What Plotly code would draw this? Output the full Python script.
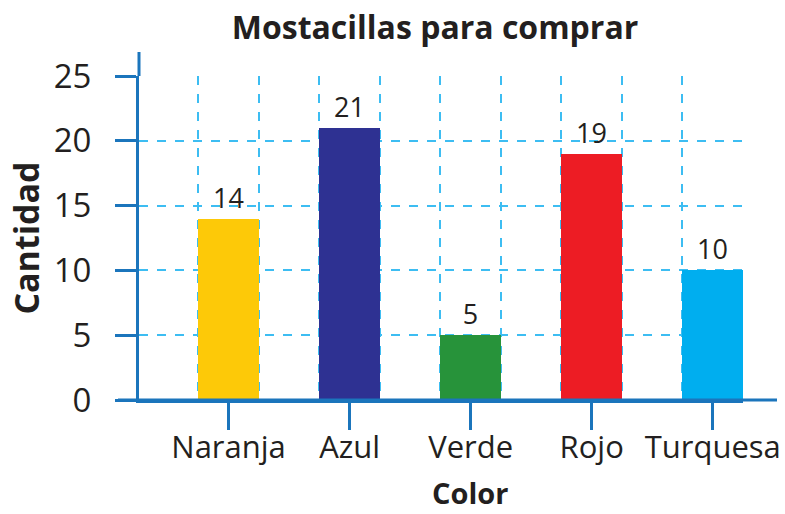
import plotly.graph_objects as go

categories = ["Naranja", "Azul", "Verde", "Rojo", "Turquesa"]
values = [14, 21, 5, 19, 10]
colors = ["#FDC908", "#2E3192", "#27933A", "#ED1C24", "#00AEEF"]
y_ticks = [0, 5, 10, 15, 20, 25]

AXIS = "#1B75BC"
GRID = "#3DBDF2"
TXT = "#231F20"
FONT = "Open Sans"
bar_w = 0.5

x_idx = list(range(len(categories)))
edges = sorted([i - bar_w / 2 for i in x_idx] + [i + bar_w / 2 for i in x_idx])

fig = go.Figure()
fig.add_trace(go.Bar(
    x=x_idx, y=values, width=bar_w,
    marker=dict(color=colors, line=dict(width=0)),
    text=[str(v) for v in values], textposition="outside",
    textfont=dict(family=FONT, size=27, color=TXT),
    cliponaxis=False,
))

W, H = 785, 514
L, R, T, B = 139, 42, 76, 114
pw, ph = W - L - R, H - T - B

fig.update_layout(
    width=W, height=H,
    margin=dict(l=L, r=R, t=T, b=B, autoexpand=False),
    paper_bgcolor="white", plot_bgcolor="white",
    showlegend=False,
    bargap=0,
    title=dict(text="<b>Mostacillas para comprar</b>", x=435 / W, xref="container",
               y=1 - 28 / H, yref="container", yanchor="middle", xanchor="center",
               automargin=False,
               font=dict(family=FONT, size=32, color=TXT)),
    xaxis=dict(
        range=[-0.74, 4.25], tickmode="array", tickvals=x_idx, ticktext=categories,
        showgrid=False, zeroline=False, automargin=False,
        ticklabeloverflow="allow", ticklabelstandoff=-9,
        showline=True, linecolor=AXIS, linewidth=3,
        ticks="outside", ticklen=27, tickwidth=3, tickcolor=AXIS,
        tickfont=dict(family=FONT, size=31, color=TXT),
        minor=dict(tickmode="array", tickvals=edges, showgrid=True, gridcolor=GRID,
                   gridwidth=1.5, griddash="dash", ticks=""),
    ),
    yaxis=dict(
        range=[0, 25], tickmode="array", tickvals=y_ticks,
        showgrid=True, gridcolor=GRID, gridwidth=1.5, griddash="dash",
        zeroline=False, automargin=False,
        ticklabeloverflow="allow",
        showline=True, linecolor=AXIS, linewidth=3,
        ticks="outside", ticklen=21, tickwidth=3, tickcolor=AXIS,
        tickfont=dict(family=FONT, size=33, color=TXT),
        ticklabelstandoff=17,
        title=dict(text="<b>Cantidad</b>", font=dict(family=FONT, size=34, color=TXT), standoff=4),
    ),
)

# x-axis title placed as an annotation below the category labels
fig.add_annotation(text="<b>Color</b>", xref="paper", yref="paper",
                   x=(470 - L) / pw, y=-(514 - (H - B)) / ph,
                   xanchor="center", yanchor="bottom", showarrow=False,
                   font=dict(family=FONT, size=29, color=TXT))

# axis line extensions beyond the plotting area
fig.add_shape(type="line", xref="paper", yref="paper",
              x0=0, x1=0, y0=1, y1=1 + (76 - 52) / ph,
              line=dict(color=AXIS, width=3))
fig.add_shape(type="line", xref="paper", yref="paper",
              x0=-21 / pw, x1=1 + (777 - 743) / pw, y0=0, y1=0,
              line=dict(color=AXIS, width=3))

fig.write_html("out.html", config={"displayModeBar": False},
               post_script="document.body.style.margin='0';")
